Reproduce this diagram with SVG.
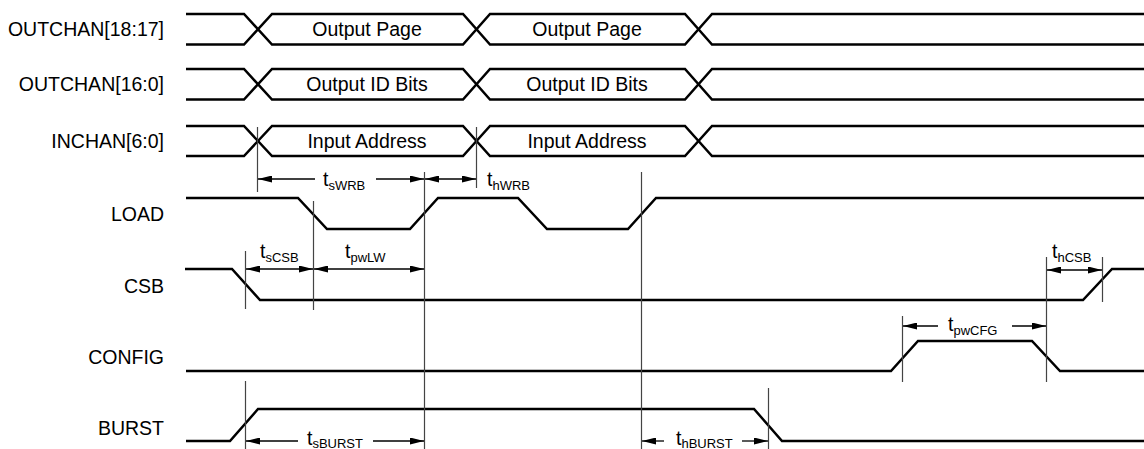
<svg xmlns="http://www.w3.org/2000/svg" width="1144" height="449" viewBox="0 0 1144 449">
<style>
.sig{fill:none;stroke:#000;stroke-width:2.5;stroke-linejoin:miter}
.lbl{font-family:"Liberation Sans",Arial,sans-serif;font-size:19.5px;fill:#000}
.r{text-anchor:end}
.c{text-anchor:middle}
.tl{stroke:#444;stroke-width:1.2;fill:none}
.ar{stroke:#000;stroke-width:1.3;fill:none}
.sub{font-size:13px}
</style>
<defs>
<marker id="ah" viewBox="0 0 14 7" refX="14" refY="3.5" markerWidth="14" markerHeight="7" markerUnits="userSpaceOnUse" orient="auto-start-reverse">
<path d="M0,0 L14,3.5 L0,7 z" fill="#000"/>
</marker>
</defs>
<rect width="1144" height="449" fill="#fff"/>

<g id="outchan1817">
<text class="lbl r" x="164" y="36">OUTCHAN[18:17]</text>
<path class="sig" d="M186,14 H244 L272,44.5 H463 L490,14 H685 L712,44.5 H1144"/>
<path class="sig" d="M186,44.5 H244 L272,14 H463 L490,44.5 H685 L712,14 H1144"/>
<text class="lbl c" x="367" y="36">Output Page</text>
<text class="lbl c" x="587" y="36">Output Page</text>
</g>

<g id="outchan160">
<text class="lbl r" x="164" y="91">OUTCHAN[16:0]</text>
<path class="sig" d="M186,69 H244 L272,99.5 H463 L490,69 H685 L712,99.5 H1144"/>
<path class="sig" d="M186,99.5 H244 L272,69 H463 L490,99.5 H685 L712,69 H1144"/>
<text class="lbl c" x="367" y="91">Output ID Bits</text>
<text class="lbl c" x="587" y="91">Output ID Bits</text>
</g>

<g id="inchan">
<text class="lbl r" x="164" y="148">INCHAN[6:0]</text>
<path class="sig" d="M186,126 H244 L272,156 H463 L490,126 H685 L712,156 H1144"/>
<path class="sig" d="M186,156 H244 L272,126 H463 L490,156 H685 L712,126 H1144"/>
<text class="lbl c" x="367" y="148">Input Address</text>
<text class="lbl c" x="587" y="148">Input Address</text>
</g>

<g id="load">
<text class="lbl r" x="164" y="221">LOAD</text>
<path class="sig" d="M186,198 H298 L327,229 H410 L438,198 H518 L547,229 H628 L656,198 H1144"/>
</g>

<g id="csb">
<text class="lbl r" x="164" y="293">CSB</text>
<path class="sig" d="M185,269 H232 L260,300 H1083 L1112,269 H1144"/>
</g>

<g id="config">
<text class="lbl r" x="164" y="364">CONFIG</text>
<path class="sig" d="M186,371 H891 L918,341 H1032 L1060,371 H1144"/>
</g>

<g id="burst">
<text class="lbl r" x="164" y="435">BURST</text>
<path class="sig" d="M186,441 H230 L258,409 H754 L782,441 H1144"/>
</g>

<g id="connectors">
<path class="tl" d="M257.5,127 V192 M476.5,127 V188 M313.5,201 V310 M424.5,172 V449 M641.5,172 V449 M245.5,251 V309 M245.5,381 V449 M768.5,388 V449 M902.5,316 V382 M1046.5,257 V382 M1102.5,257 V302"/>
<line class="ar" x1="315" y1="179" x2="258" y2="179" marker-end="url(#ah)"/>
<line class="ar" x1="376" y1="179" x2="424" y2="179" marker-end="url(#ah)"/>
<line class="ar" x1="425" y1="179" x2="476" y2="179" marker-start="url(#ah)" marker-end="url(#ah)"/>
<line class="ar" x1="246" y1="269" x2="313" y2="269" marker-start="url(#ah)" marker-end="url(#ah)"/>
<line class="ar" x1="314" y1="269" x2="424" y2="269" marker-start="url(#ah)" marker-end="url(#ah)"/>
<line class="ar" x1="1047" y1="270" x2="1102" y2="270" marker-start="url(#ah)" marker-end="url(#ah)"/>
<line class="ar" x1="938" y1="326" x2="903" y2="326" marker-end="url(#ah)"/>
<line class="ar" x1="1012" y1="326" x2="1046" y2="326" marker-end="url(#ah)"/>
<line class="ar" x1="298" y1="441" x2="246" y2="441" marker-end="url(#ah)"/>
<line class="ar" x1="373" y1="441" x2="424" y2="441" marker-end="url(#ah)"/>
<line class="ar" x1="664" y1="441" x2="642" y2="441" marker-end="url(#ah)"/>
<line class="ar" x1="742" y1="441" x2="768" y2="441" marker-end="url(#ah)"/>
<text class="lbl" x="323" y="186">t<tspan class="sub" dy="3.5">sWRB</tspan></text>
<text class="lbl" x="487" y="186">t<tspan class="sub" dy="3.5">hWRB</tspan></text>
<text class="lbl" x="260" y="258">t<tspan class="sub" dy="3.5">sCSB</tspan></text>
<text class="lbl" x="345" y="258">t<tspan class="sub" dy="3.5">pwLW</tspan></text>
<text class="lbl" x="1052" y="258">t<tspan class="sub" dy="3.5">hCSB</tspan></text>
<text class="lbl" x="948" y="331">t<tspan class="sub" dy="3.5">pwCFG</tspan></text>
<text class="lbl" x="307" y="445">t<tspan class="sub" dy="3">sBURST</tspan></text>
<text class="lbl" x="676" y="445">t<tspan class="sub" dy="3">hBURST</tspan></text>
</g>
</svg>
